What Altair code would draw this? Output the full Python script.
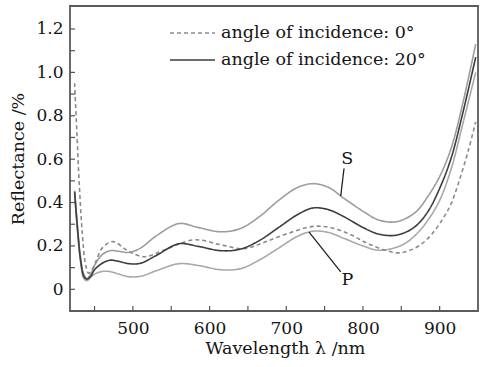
import altair as alt
import pandas as pd

# ---- data ----
x_20 = [424, 428, 432, 436, 440, 445, 450, 460, 470, 480, 495, 510, 530, 560, 585, 615,
        640, 665, 690, 715, 735, 755, 775, 800, 820, 840, 855, 870, 885, 900, 915, 930, 947]
s_pol = [0.455, 0.28, 0.14, 0.07, 0.05, 0.07, 0.11, 0.16, 0.178, 0.176, 0.17, 0.19, 0.245, 0.303, 0.285, 0.265,
         0.28, 0.335, 0.41, 0.47, 0.487, 0.47, 0.42, 0.36, 0.32, 0.31, 0.325, 0.36, 0.43, 0.52, 0.65, 0.855, 1.13]
avg_20 = [0.45, 0.27, 0.13, 0.06, 0.047, 0.06, 0.09, 0.12, 0.134, 0.13, 0.118, 0.12, 0.155, 0.21, 0.198, 0.178,
          0.185, 0.225, 0.285, 0.345, 0.375, 0.367, 0.335, 0.285, 0.255, 0.248, 0.262, 0.295, 0.36, 0.465, 0.605, 0.81, 1.07]
p_pol = [0.44, 0.26, 0.12, 0.05, 0.04, 0.055, 0.07, 0.082, 0.082, 0.072, 0.058, 0.06, 0.085, 0.118, 0.11, 0.09,
         0.095, 0.135, 0.19, 0.245, 0.268, 0.262, 0.235, 0.20, 0.18, 0.19, 0.212, 0.255, 0.32, 0.41, 0.555, 0.76, 1.0]

x_0 = [424, 427, 430, 434, 438, 442, 446, 452, 460, 474, 490, 500, 516, 540, 580, 615,
       645, 670, 700, 735, 760, 785, 810, 845, 860, 875, 890, 905, 915, 925, 937, 947]
avg_0 = [0.95, 0.72, 0.49, 0.26, 0.12, 0.075, 0.085, 0.13, 0.19, 0.22, 0.185, 0.165, 0.15, 0.18, 0.228, 0.205,
         0.187, 0.215, 0.255, 0.29, 0.283, 0.25, 0.205, 0.168, 0.178, 0.205, 0.255, 0.33, 0.395, 0.495, 0.635, 0.772]

x_ticks = [450, 500, 550, 600, 650, 700, 750, 800, 850, 900]
x_labels = [500, 600, 700, 800, 900]
y_ticks = [0, 0.1, 0.2, 0.3, 0.4, 0.5, 0.6, 0.7, 0.8, 0.9, 1.0, 1.1, 1.2]
y_labels = [0, 0.2, 0.4, 0.6, 0.8, 1.0, 1.2]
legend_labels = ["angle of incidence: 0°", "angle of incidence: 20°"]

# S / P annotations (data coordinates)
ann_text = ["S", "P"]
ann_x = [779.5, 779.7]
ann_y = [0.60, 0.042]
lead_x = [771, 729.5]
lead_y = [0.43, 0.265]
lead_x2 = [775.3, 771]
lead_y2 = [0.557, 0.08]

W, H = 408, 305
FONT = "DejaVu Serif"
TXT = "#151515"

rows = []
for name, xs_, ys_ in [("S", x_20, s_pol), ("P", x_20, p_pol), ("0", x_0, avg_0), ("20", x_20, avg_20)]:
    for i, (xv, yv) in enumerate(zip(xs_, ys_)):
        rows.append({"series": name, "wl": xv, "R": yv, "i": i})
df = pd.DataFrame(rows)

xs = alt.Scale(domain=[418, 950], nice=False, zero=False)
ys = alt.Scale(domain=[-0.1, 1.306], nice=False, zero=False)

lines = alt.Chart(df).mark_line(interpolate="catmull-rom", strokeWidth=1.6, clip=True).encode(
    x=alt.X("wl:Q", scale=xs,
            axis=alt.Axis(values=x_labels, ticks=False, domain=False, grid=False,
                          labelFont=FONT, labelFontSize=17, labelColor=TXT, labelPadding=9,
                          title="Wavelength λ /nm", titleFont=FONT, titleFontSize=17.5,
                          titleFontWeight="normal", titleColor=TXT, titlePadding=3,
                          titleX=215, titleAlign="center")),
    y=alt.Y("R:Q", scale=ys,
            axis=alt.Axis(values=y_labels, ticks=False, domain=False, grid=False,
                          labelExpr="datum.value == 0 ? '0' : format(datum.value, '.1f')",
                          labelFont=FONT, labelFontSize=17, labelColor=TXT, labelPadding=7,
                          title="Reflectance /%", titleFont=FONT, titleFontSize=17.5,
                          titleFontWeight="normal", titleColor=TXT, titlePadding=8)),
    color=alt.Color("series:N", scale=alt.Scale(domain=["S", "P", "0", "20"],
                                                range=["#9c9c9c", "#a8a8a8", "#8a8a8a", "#3c3c3c"]),
                    legend=None),
    strokeDash=alt.StrokeDash("series:N", scale=alt.Scale(domain=["S", "P", "0", "20"],
                                                          range=[[1, 0], [1, 0], [4, 3], [1, 0]]),
                              legend=None),
    order="i:Q",
)

xt = alt.Chart(pd.DataFrame({"t": x_ticks})).mark_rule(color="#555", strokeWidth=1.2).encode(
    x=alt.X("t:Q", scale=xs), y=alt.value(H), y2=alt.value(H - 5))
yt = alt.Chart(pd.DataFrame({"t": y_ticks})).mark_rule(color="#555", strokeWidth=1.2).encode(
    y=alt.Y("t:Q", scale=ys), x=alt.value(0), x2=alt.value(5))

ann_df = pd.DataFrame({"text": ann_text, "x": ann_x, "y": ann_y,
                       "lx": lead_x, "ly": lead_y, "lx2": lead_x2, "ly2": lead_y2})
ann_t = alt.Chart(ann_df).mark_text(font=FONT, fontSize=17.5, color=TXT, baseline="middle").encode(
    x=alt.X("x:Q", scale=xs), y=alt.Y("y:Q", scale=ys), text="text:N")
ann_l = alt.Chart(ann_df).mark_rule(color="#222", strokeWidth=1.3).encode(
    x=alt.X("lx:Q", scale=xs), y=alt.Y("ly:Q", scale=ys), x2="lx2:Q", y2="ly2:Q")

leg_df = pd.DataFrame({"label": legend_labels})
leg0 = alt.Chart(leg_df).transform_filter(alt.datum.label == legend_labels[0]).mark_rule(
    color="#8a8a8a", strokeWidth=1.4, strokeDash=[4, 3]).encode(
    x=alt.value(100), x2=alt.value(145), y=alt.value(27))
leg1 = alt.Chart(leg_df).transform_filter(alt.datum.label == legend_labels[1]).mark_rule(
    color="#3c3c3c", strokeWidth=1.6).encode(
    x=alt.value(100), x2=alt.value(145), y=alt.value(54))
leg_t0 = alt.Chart(leg_df).transform_filter(alt.datum.label == legend_labels[0]).mark_text(
    font=FONT, fontSize=17.5, color=TXT, align="left", baseline="middle").encode(
    x=alt.value(151), y=alt.value(27), text="label:N")
leg_t1 = alt.Chart(leg_df).transform_filter(alt.datum.label == legend_labels[1]).mark_text(
    font=FONT, fontSize=17.5, color=TXT, align="left", baseline="middle").encode(
    x=alt.value(151), y=alt.value(54), text="label:N")

chart = alt.layer(lines, xt, yt, ann_l, ann_t, leg0, leg1, leg_t0, leg_t1).properties(
    width=W, height=H,
    autosize=alt.AutoSizeParams(type="none"),
    padding={"left": 70, "top": 6, "right": 10, "bottom": 56},
    background="white",
).configure_view(stroke="#5a5a5a", strokeWidth=1.8)

chart.save("out.html", embed_options={"renderer": "svg", "actions": False})
